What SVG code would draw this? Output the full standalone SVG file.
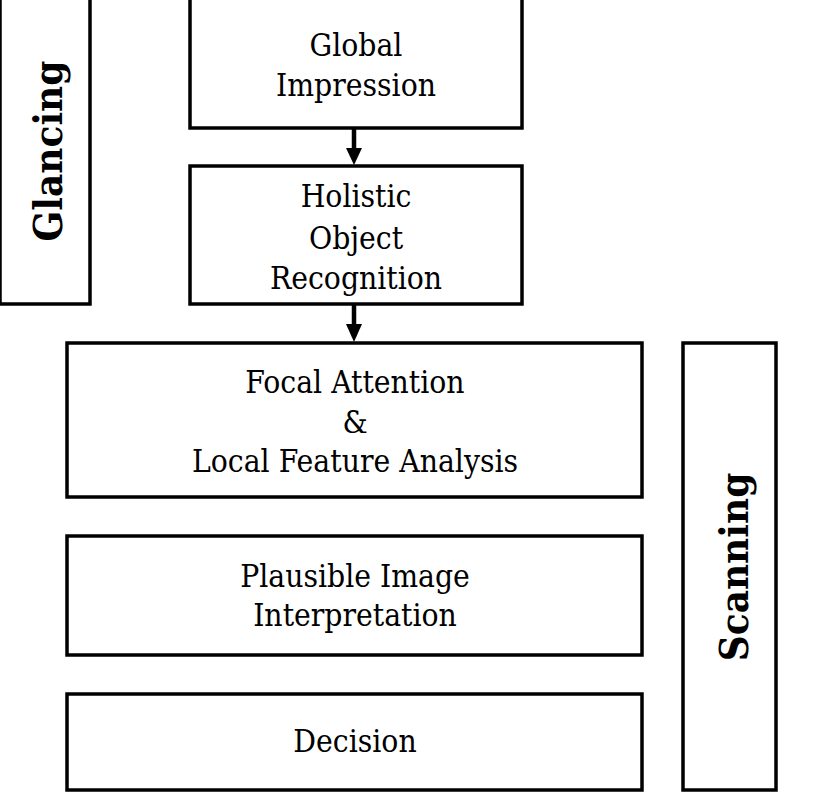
<svg xmlns="http://www.w3.org/2000/svg" width="817" height="798" viewBox="0 0 817 798">
<style>
.box{fill:#fff;stroke:#000;stroke-width:3.5}
.t{font-family:"DejaVu Serif Condensed","DejaVu Serif","Liberation Serif",serif;font-size:31.5px;fill:#000;text-anchor:middle;font-stretch:condensed}
.b{font-family:"DejaVu Serif Condensed","DejaVu Serif","Liberation Serif",serif;font-size:40px;font-weight:bold;fill:#000;text-anchor:middle;font-stretch:condensed}
.conn{stroke:#000;stroke-width:4.5;fill:none}
.head{fill:#000}
</style>
<rect width="817" height="798" fill="#fff"/>
<g id="glancing">
<rect class="box" x="0" y="-10" width="90" height="314"/>
<text class="b" transform="translate(62,151) rotate(-90)">Glancing</text>
</g>
<g id="global-impression">
<rect class="box" x="190" y="-10" width="332" height="138"/>
<text class="t" x="356" y="56">Global</text>
<text class="t" x="356" y="96">Impression</text>
</g>
<g id="holistic">
<rect class="box" x="190" y="166" width="332" height="138"/>
<text class="t" x="356" y="207">Holistic</text>
<text class="t" x="356" y="249">Object</text>
<text class="t" x="356" y="289">Recognition</text>
</g>
<g id="focal">
<rect class="box" x="67" y="343" width="575" height="154"/>
<text class="t" x="355" y="393">Focal Attention</text>
<text class="t" x="355" y="433">&amp;</text>
<text class="t" x="355" y="472">Local Feature Analysis</text>
</g>
<g id="plausible">
<rect class="box" x="67" y="536" width="575" height="119"/>
<text class="t" x="355" y="587">Plausible Image</text>
<text class="t" x="355" y="626">Interpretation</text>
</g>
<g id="decision">
<rect class="box" x="67" y="694" width="575" height="96"/>
<text class="t" x="355" y="752">Decision</text>
</g>
<g id="scanning">
<rect class="box" x="683" y="343" width="93" height="447"/>
<text class="b" transform="translate(748,567) rotate(-90)">Scanning</text>
</g>
<g id="connectors">
<line class="conn" x1="354" y1="129" x2="354" y2="150"/>
<polygon class="head" points="346,148 362,148 354,165"/>
<line class="conn" x1="354" y1="305" x2="354" y2="326"/>
<polygon class="head" points="346,324 362,324 354,342"/>
</g>
</svg>
